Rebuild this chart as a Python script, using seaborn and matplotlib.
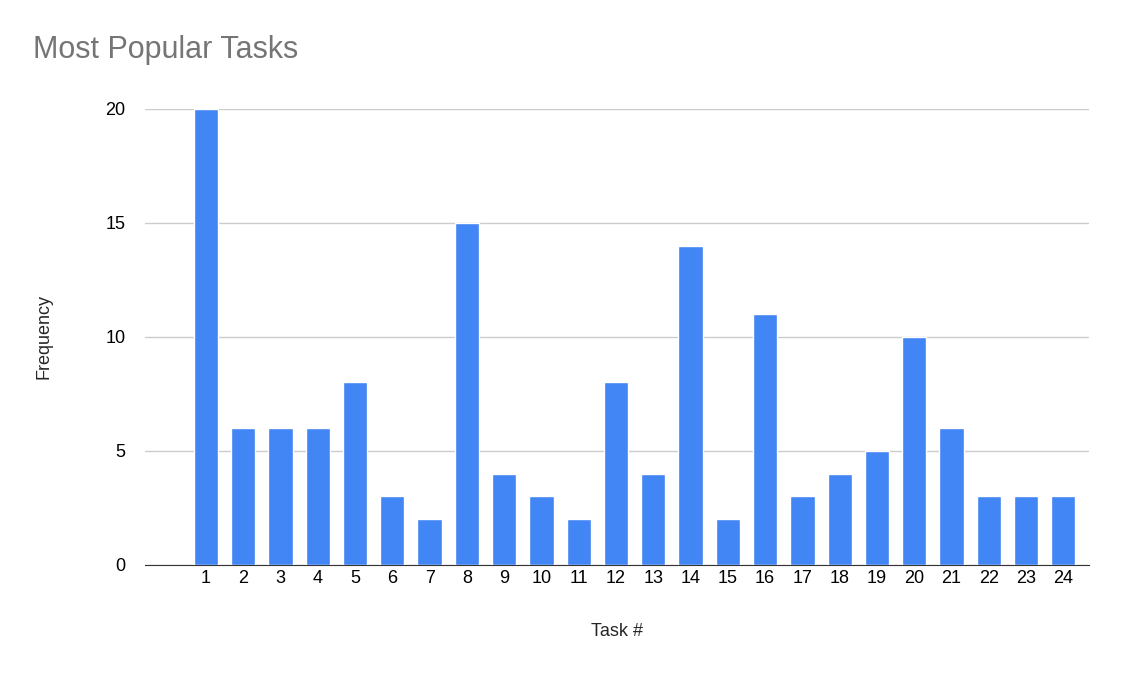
import matplotlib
matplotlib.use("Agg")
import matplotlib.pyplot as plt
import seaborn as sns
import pandas as pd

tasks = [str(i) for i in range(1, 25)]
frequency = [20, 6, 6, 6, 8, 3, 2, 15, 4, 3, 2, 8, 4, 14, 2, 11, 3, 4, 5, 10, 6, 3, 3, 3]

df = pd.DataFrame({"Task #": tasks, "Frequency": frequency})

sns.set_style("white")
plt.rcParams["font.family"] = ["Liberation Sans", "DejaVu Sans"]

fig = plt.figure(figsize=(11.22, 6.93), dpi=100)
ax = fig.add_axes([0.129, 0.185, 0.842, 0.658])

sns.barplot(data=df, x="Task #", y="Frequency", order=tasks, color="#4285F4",
            saturation=1, width=0.65, ax=ax, zorder=3)

ax.set_xlim(-1.64, 23.7)
ax.set_ylim(0, 20)
ax.set_yticks([0, 5, 10, 15, 20])
ax.grid(axis="y", color="#cccccc", linewidth=1, zorder=0)
for s in ["top", "right", "left"]:
    ax.spines[s].set_visible(False)
ax.spines["bottom"].set_color("#333333")
ax.tick_params(axis="both", length=0, labelsize=13, colors="black")
ax.tick_params(axis="y", pad=14)
ax.set_xlabel("Task #", fontsize=13, labelpad=26)
ax.set_ylabel("Frequency", fontsize=13, labelpad=38)

fig.text(0.029, 0.928, "Most Popular Tasks", fontsize=22, color="#757575", va="center")

fig.savefig("out.png", dpi=100)
